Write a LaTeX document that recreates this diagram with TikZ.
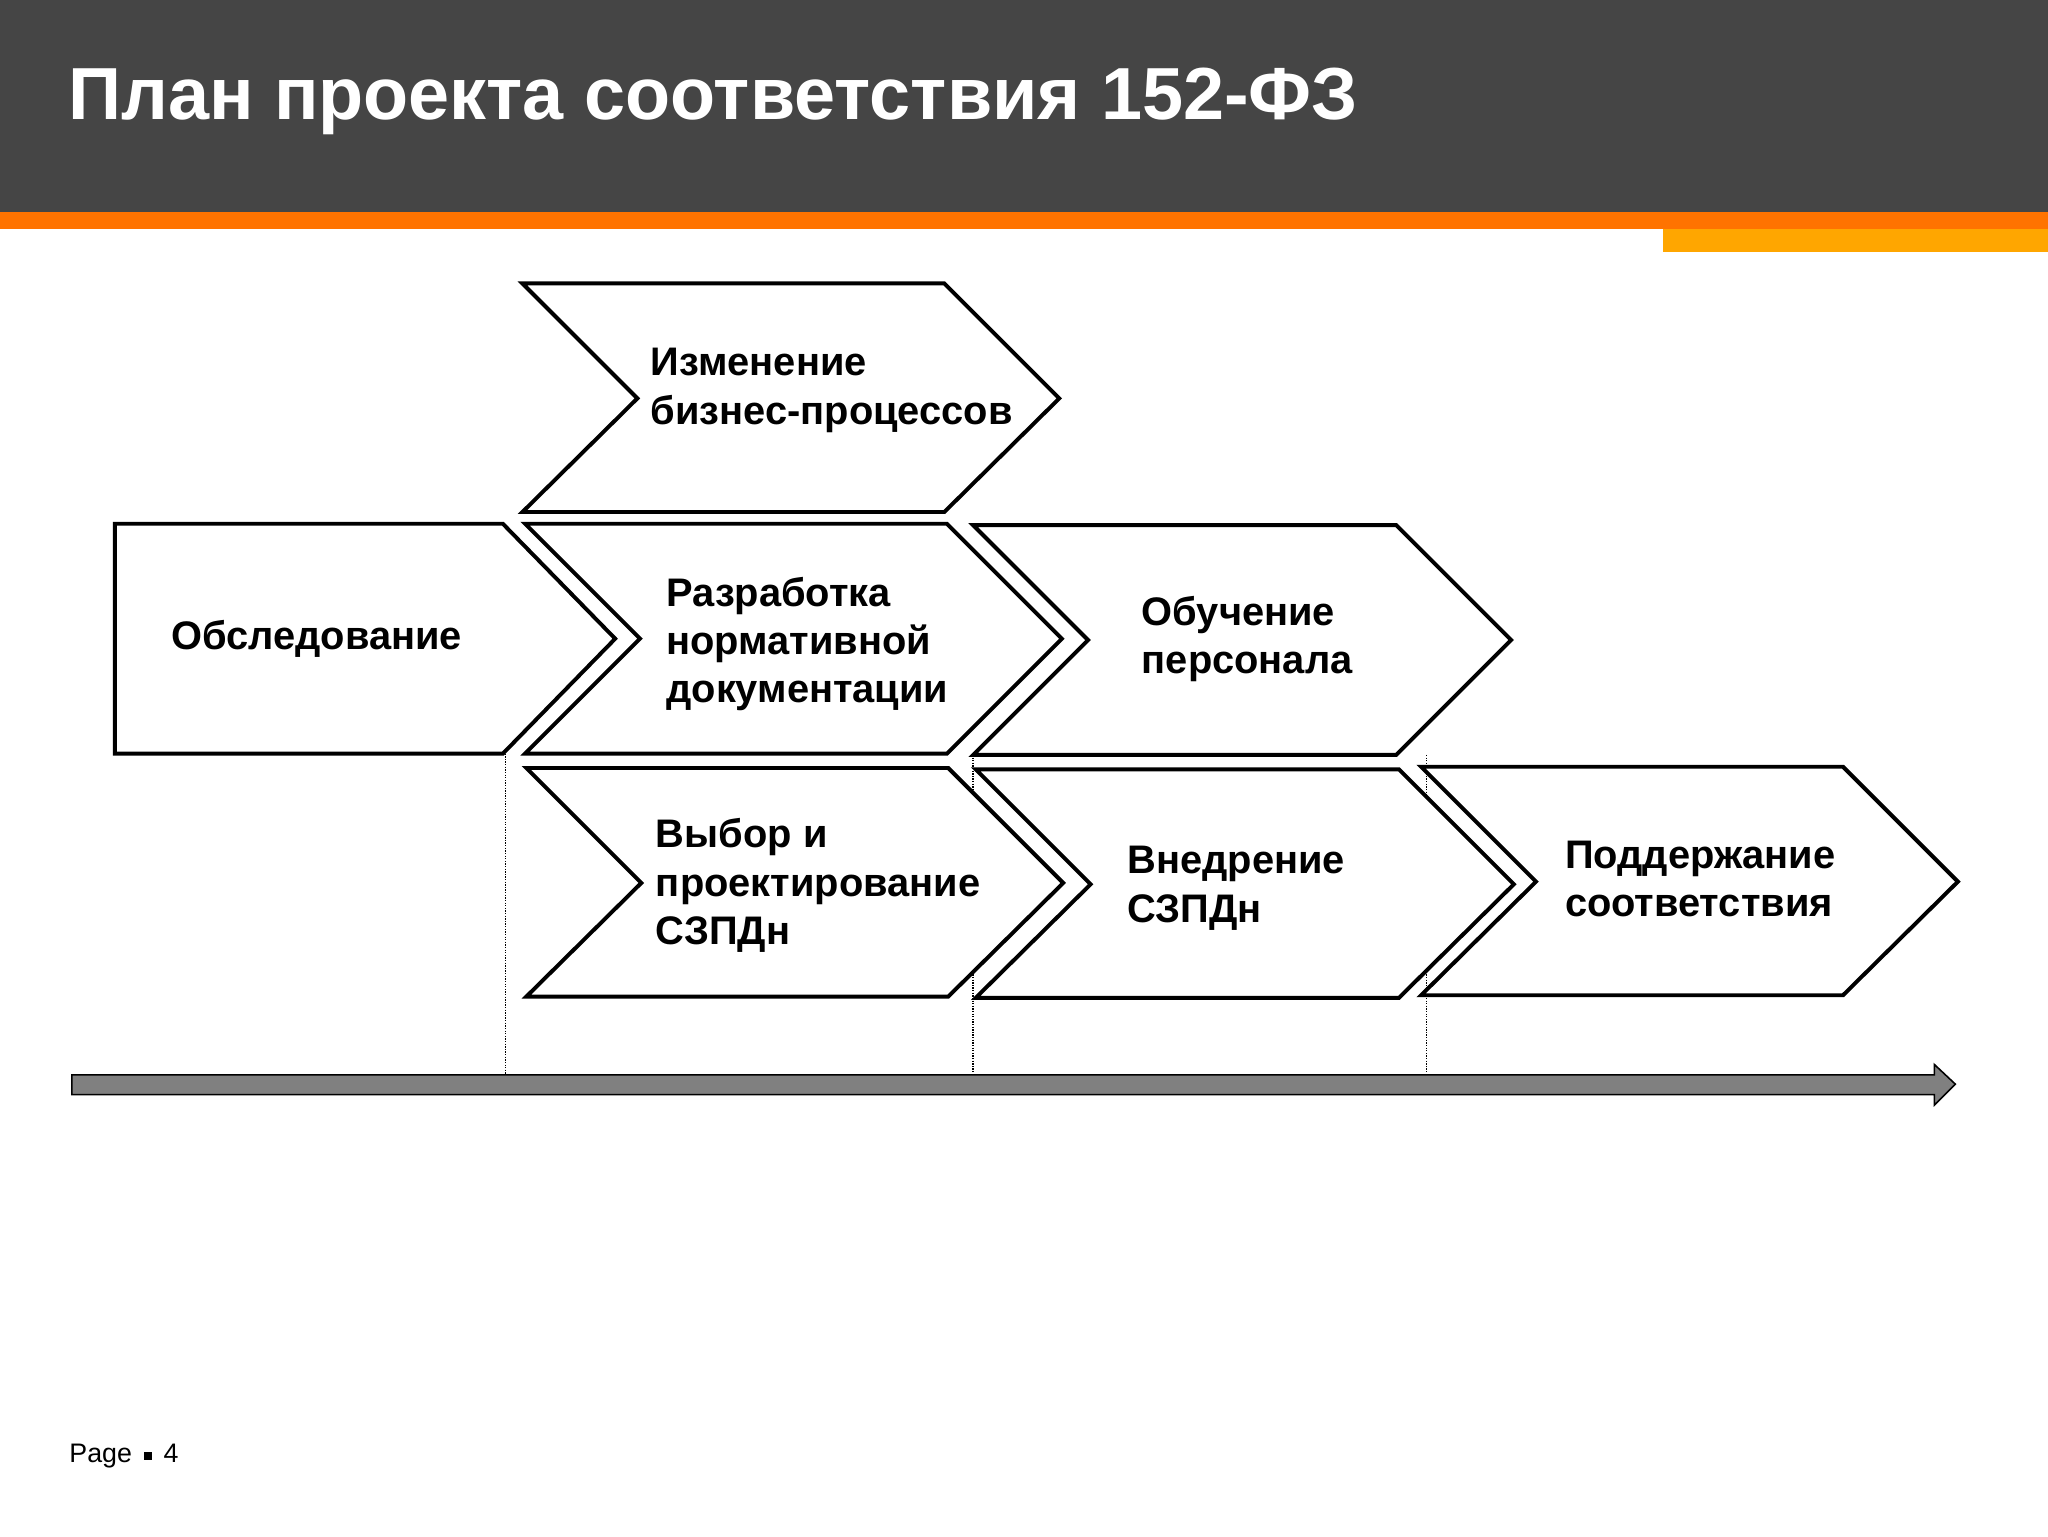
\documentclass[tikz,border=0pt]{standalone}
\usepackage{fontspec}
\setmainfont{Liberation Sans}
\begin{document}
\begin{tikzpicture}[x=1pt,y=-1pt,
  chev/.style={draw=black,line width=3pt,fill=white,line join=miter},
  lbl/.style={anchor=west,align=left,font=\fontsize{30.5}{37}\selectfont\bfseries,inner sep=0pt},
  dots/.style={densely dotted,line width=1pt}]
\useasboundingbox (0,0) rectangle (1568,1176);
\fill[white] (0,0) rectangle (1568,1176);
\fill[black!73] (0,0) rectangle (1568,162);
\fill[orange!90!red] (0,162) rectangle (1568,175);
\fill[orange!70!yellow] (1273,175) rectangle (1568,193);
\node[anchor=west,text=white,font=\fontsize{56.5}{60}\selectfont\bfseries,inner sep=0pt] (title) at (52,78) {План проекта соответствия 152-ФЗ};
% dotted guides
\coordinate (d1a) at (387,577); \coordinate (d1b) at (387,822);
\coordinate (d2a) at (745,578); \coordinate (d2b) at (745,822);
\coordinate (d3a) at (1092,578); \coordinate (d3b) at (1092,822);
\draw[dots] (d1a)--(d1b); \draw[dots] (d2a)--(d2b); \draw[dots] (d3a)--(d3b);
% chevrons
\draw[chev] (400,217)--(723,217)--(811,305)--(723,392)--(400,392)--(488,305)--cycle;
\draw[chev] (88,401)--(385,401)--(471,489)--(385,577)--(88,577)--cycle;
\draw[chev] (402,401)--(725,401)--(813,489)--(725,577)--(402,577)--(490,489)--cycle;
\draw[chev] (745,402)--(1069,402)--(1157,490)--(1069,578)--(745,578)--(833,490)--cycle;
\draw[chev] (403,588)--(726,588)--(814,676)--(726,763)--(403,763)--(491,676)--cycle;
\draw[chev] (747,589)--(1071,589)--(1159,677)--(1071,764)--(747,764)--(835,677)--cycle;
\draw[chev] (1088,587)--(1411,587)--(1499,675)--(1411,762)--(1088,762)--(1176,675)--cycle;
\node[lbl] (n1) at (498,299) {Изменение\\бизнес-процессов};
\node[lbl] (n2) at (131,489) {Обследование};
\node[lbl] (n3) at (510,493) {Разработка\\нормативной\\документации};
\node[lbl] (n4) at (874,489) {Обучение\\персонала};
\node[lbl] (n5) at (502,678) {Выбор и\\проектирование\\СЗПДн};
\node[lbl] (n6) at (863,680) {Внедрение\\СЗПДн};
\node[lbl] (n7) at (1198,673) {Поддержание\\соответствия};
% timeline
\draw[fill=black!50,line width=1.2pt] (55,823)--(1481,823)--(1481,815)--(1497,830)--(1481,846)--(1481,838)--(55,838)--cycle;
\node[anchor=west,inner sep=0pt,font=\fontsize{20.5}{22}\selectfont] (pg) at (53,1115) {Page \,{\raisebox{2pt}{\rule{6pt}{6pt}}}\, 4};
\end{tikzpicture}
\end{document}
